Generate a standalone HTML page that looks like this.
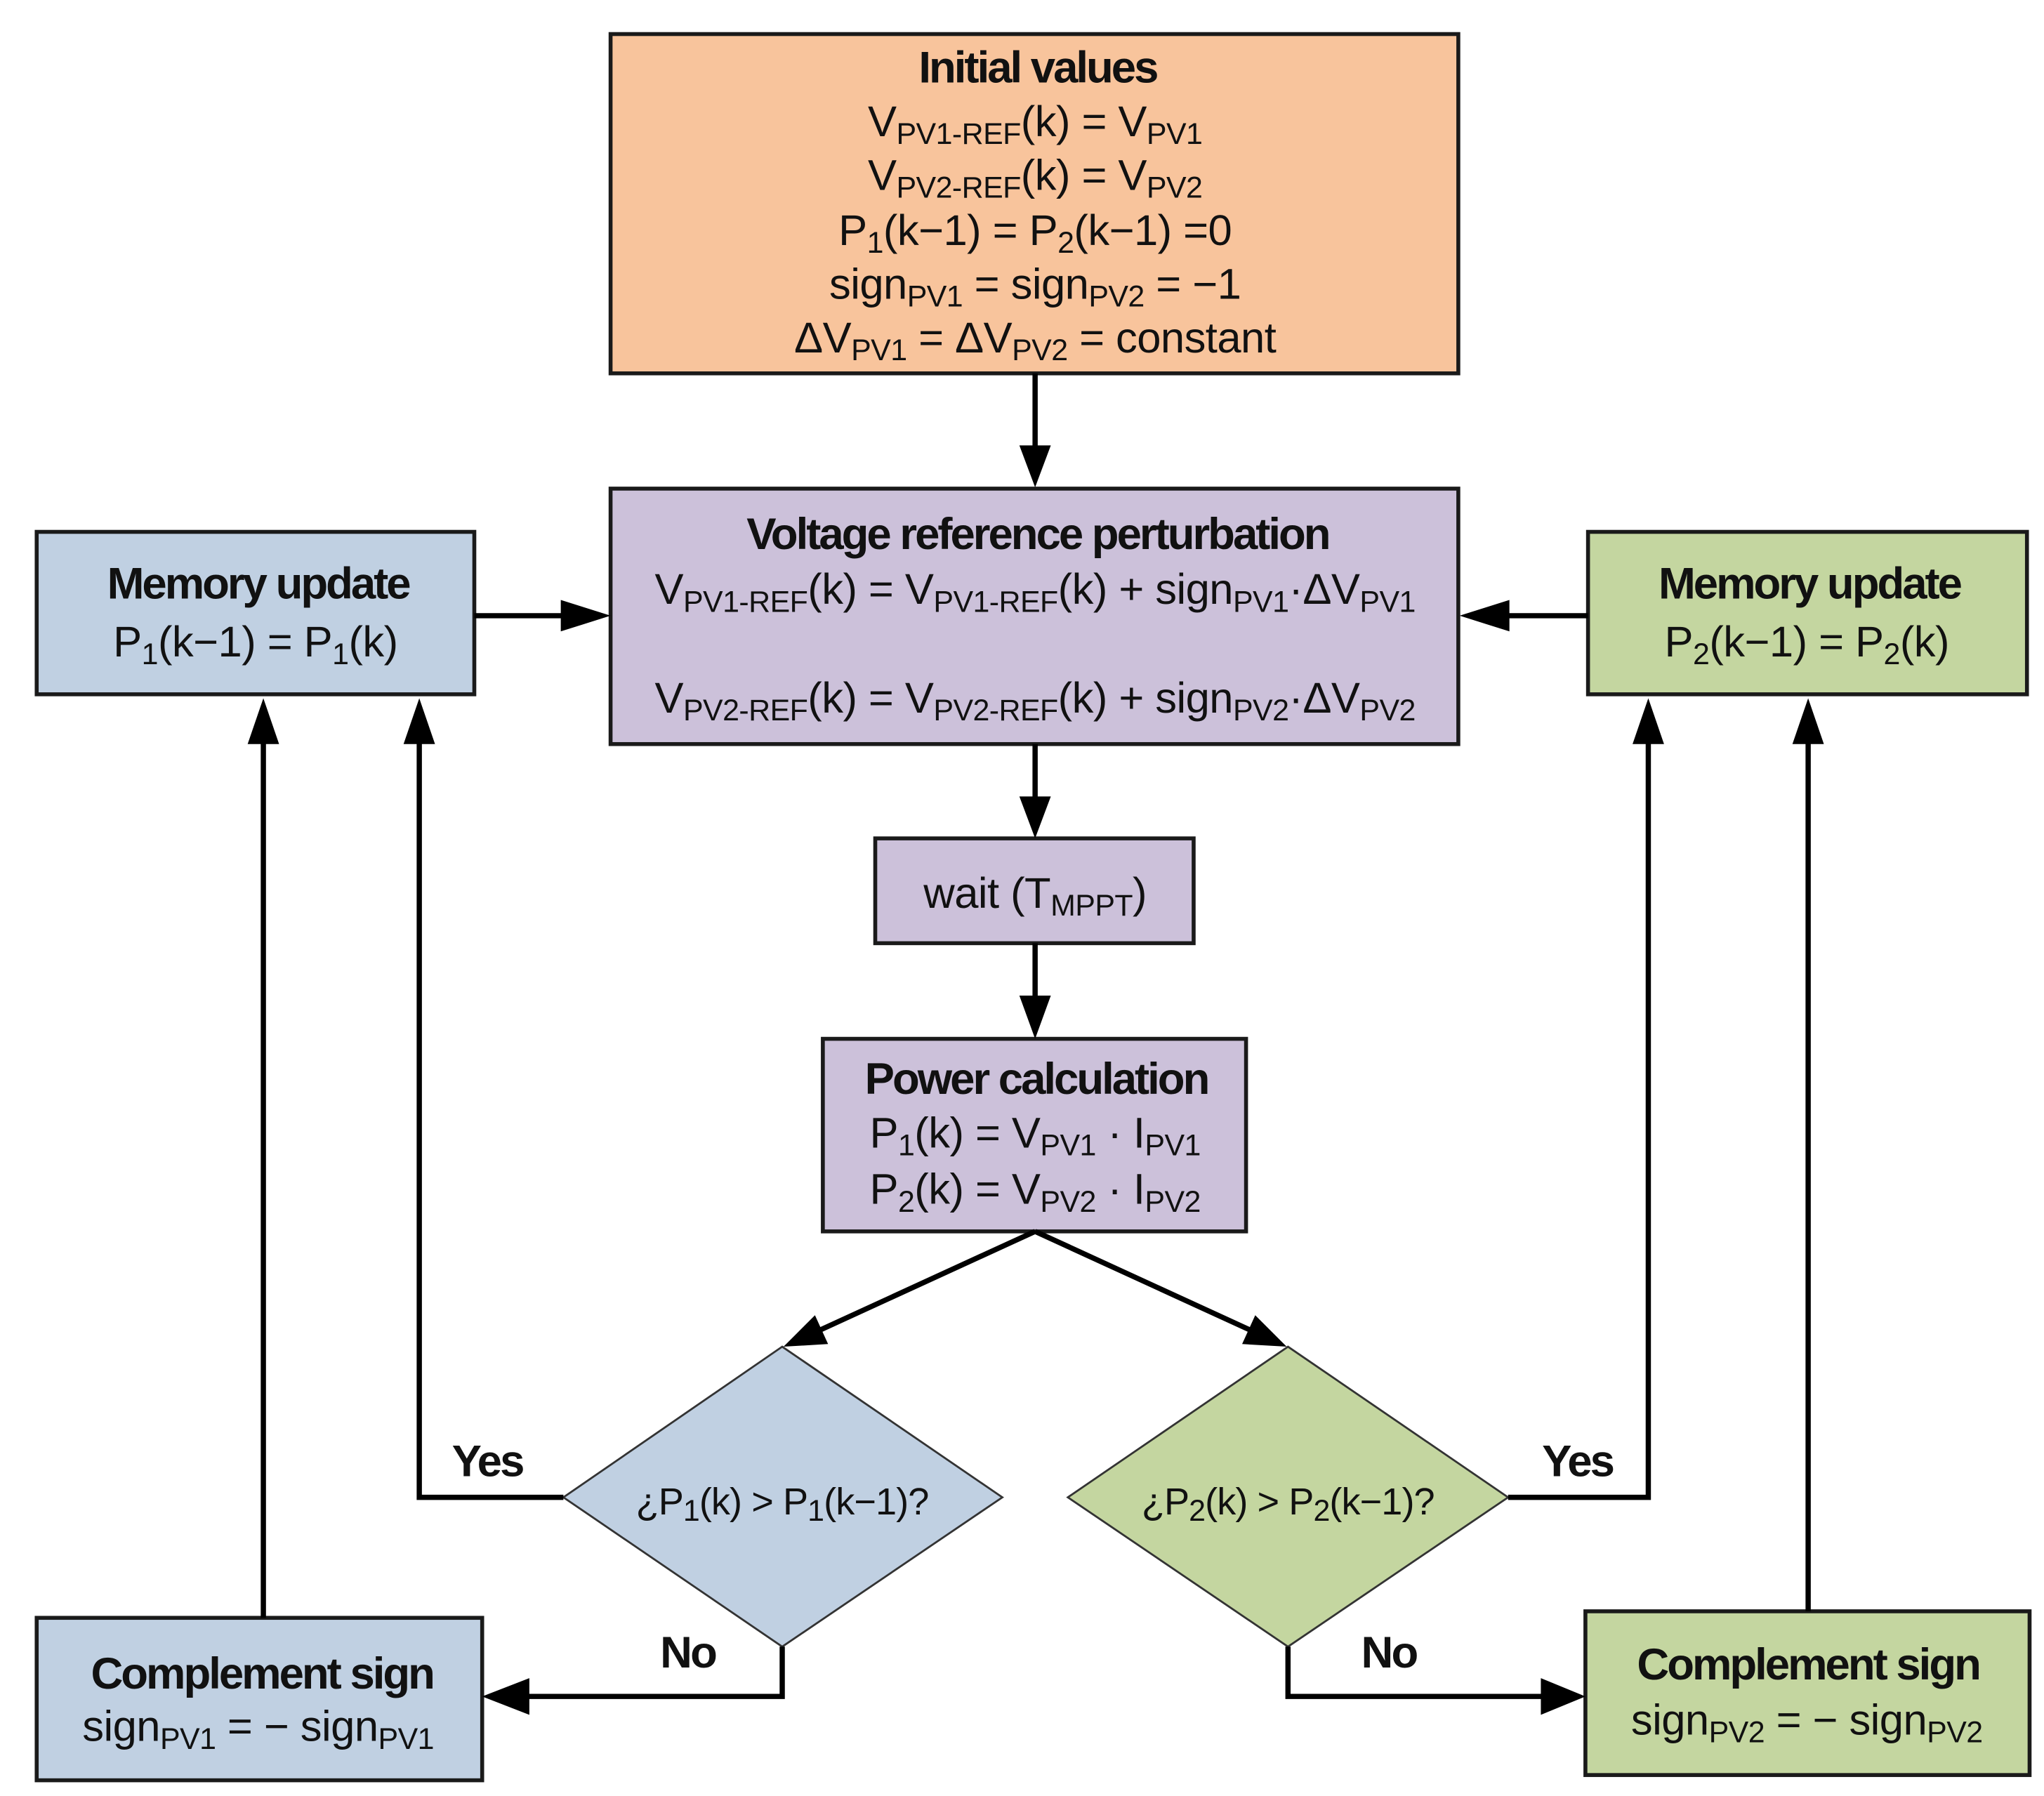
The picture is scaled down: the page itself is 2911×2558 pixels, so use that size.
<!DOCTYPE html>
<html><head><meta charset="utf-8"><style>
html,body{margin:0;padding:0;background:#fff;}
svg{display:block}
text{font-family:"Liberation Sans",Arial,sans-serif;fill:#111;}
.t{font-weight:bold;font-size:34px;letter-spacing:-1.6px}
.n{font-size:33px;letter-spacing:-0.3px}
.s{font-size:23px}
.d{font-size:29px;letter-spacing:-0.5px}
.y{font-weight:bold;font-size:34px;letter-spacing:-1.5px}
</style></head><body>
<svg width="2911" height="2558" viewBox="0 0 1560 1371" preserveAspectRatio="none" xmlns="http://www.w3.org/2000/svg">
<g stroke="#1a1a1a" stroke-width="3">
<rect x="466" y="26" width="647" height="259" fill="#F8C49C"/>
<rect x="466" y="373" width="647" height="195" fill="#CCC1DA"/>
<rect x="28" y="406" width="334" height="124" fill="#C0D0E2"/>
<rect x="1212" y="406" width="335" height="124" fill="#C4D6A0"/>
<rect x="668" y="640" width="243" height="80" fill="#CCC1DA"/>
<rect x="628" y="793" width="323" height="147" fill="#CCC1DA"/>
<rect x="28" y="1235" width="340" height="124" fill="#C0D0E2"/>
<rect x="1210" y="1230" width="339" height="125" fill="#C4D6A0"/>
</g>
<g stroke="#333" stroke-width="1.5">
<polygon points="597,1028 765,1143 597,1257 430,1143" fill="#C0D0E2"/>
<polygon points="983,1028 1151,1143 983,1257 815,1143" fill="#C4D6A0"/>
</g>
<g stroke="#000" stroke-width="4" fill="none">
<line x1="790" y1="285" x2="790" y2="345"/>
<line x1="362" y1="470" x2="430" y2="470"/>
<line x1="1212" y1="470" x2="1150" y2="470"/>
<line x1="790" y1="568" x2="790" y2="612"/>
<line x1="790" y1="720" x2="790" y2="765"/>
<line x1="790" y1="940" x2="620" y2="1018"/>
<line x1="790" y1="940" x2="960" y2="1018"/>
<polyline points="430,1143 320,1143 320,565"/>
<polyline points="1151,1143 1258,1143 1258,565"/>
<polyline points="597,1257 597,1295 400,1295"/>
<polyline points="983,1257 983,1295 1180,1295"/>
<line x1="201" y1="1235" x2="201" y2="565"/>
<line x1="1380" y1="1230" x2="1380" y2="565"/>
</g>
<g fill="#000">
<polygon points="778,340 802,340 790,372"/>
<polygon points="778,608 802,608 790,640"/>
<polygon points="778,760 802,760 790,793"/>
<polygon points="428,458 428,482 466,470"/>
<polygon points="1152,458 1152,482 1114,470"/>
<polygon points="308,568 332,568 320,533"/>
<polygon points="1246,568 1270,568 1258,533"/>
<polygon points="189,568 213,568 201,533"/>
<polygon points="1368,568 1392,568 1380,533"/>
<polygon points="404,1281 404,1309 368,1295"/>
<polygon points="1176,1281 1176,1309 1210,1295"/>
<polygon points="598,1028 622,1004 632,1026"/>
<polygon points="982,1028 958,1004 948,1026"/>
</g>
<g text-anchor="middle">
<text class="t" x="792" y="63">Initial values</text>
<text class="n" x="790" y="104">V<tspan class="s" dy="6">PV1-REF</tspan><tspan dy="-6">(k) = V</tspan><tspan class="s" dy="6">PV1</tspan></text>
<text class="n" x="790" y="145">V<tspan class="s" dy="6">PV2-REF</tspan><tspan dy="-6">(k) = V</tspan><tspan class="s" dy="6">PV2</tspan></text>
<text class="n" x="790" y="187">P<tspan class="s" dy="6">1</tspan><tspan dy="-6">(k−1) = P</tspan><tspan class="s" dy="6">2</tspan><tspan dy="-6">(k−1) =0</tspan></text>
<text class="n" x="790" y="228">sign<tspan class="s" dy="6">PV1</tspan><tspan dy="-6"> = sign</tspan><tspan class="s" dy="6">PV2</tspan><tspan dy="-6"> = −1</tspan></text>
<text class="n" x="790" y="269">ΔV<tspan class="s" dy="6">PV1</tspan><tspan dy="-6"> = ΔV</tspan><tspan class="s" dy="6">PV2</tspan><tspan dy="-6"> = constant</tspan></text>

<text class="t" x="792" y="419">Voltage reference perturbation</text>
<text class="n" x="790" y="461">V<tspan class="s" dy="6">PV1-REF</tspan><tspan dy="-6">(k) = V</tspan><tspan class="s" dy="6">PV1-REF</tspan><tspan dy="-6">(k) + sign</tspan><tspan class="s" dy="6">PV1</tspan><tspan dy="-6">·ΔV</tspan><tspan class="s" dy="6">PV1</tspan></text>
<text class="n" x="790" y="544">V<tspan class="s" dy="6">PV2-REF</tspan><tspan dy="-6">(k) = V</tspan><tspan class="s" dy="6">PV2-REF</tspan><tspan dy="-6">(k) + sign</tspan><tspan class="s" dy="6">PV2</tspan><tspan dy="-6">·ΔV</tspan><tspan class="s" dy="6">PV2</tspan></text>

<text class="t" x="197" y="457">Memory update</text>
<text class="n" x="195" y="501">P<tspan class="s" dy="6">1</tspan><tspan dy="-6">(k−1) = P</tspan><tspan class="s" dy="6">1</tspan><tspan dy="-6">(k)</tspan></text>
<text class="t" x="1381" y="457">Memory update</text>
<text class="n" x="1379" y="501">P<tspan class="s" dy="6">2</tspan><tspan dy="-6">(k−1) = P</tspan><tspan class="s" dy="6">2</tspan><tspan dy="-6">(k)</tspan></text>

<text class="n" x="790" y="693">wait (T<tspan class="s" dy="6">MPPT</tspan><tspan dy="-6">)</tspan></text>

<text class="t" x="791" y="835">Power calculation</text>
<text class="n" x="790" y="876">P<tspan class="s" dy="6">1</tspan><tspan dy="-6">(k) = V</tspan><tspan class="s" dy="6">PV1</tspan><tspan dy="-6"> · I</tspan><tspan class="s" dy="6">PV1</tspan></text>
<text class="n" x="790" y="919">P<tspan class="s" dy="6">2</tspan><tspan dy="-6">(k) = V</tspan><tspan class="s" dy="6">PV2</tspan><tspan dy="-6"> · I</tspan><tspan class="s" dy="6">PV2</tspan></text>

<text class="d" x="597" y="1156">¿P<tspan class="s" dy="5">1</tspan><tspan dy="-5">(k) &gt; P</tspan><tspan class="s" dy="5">1</tspan><tspan dy="-5">(k−1)?</tspan></text>
<text class="d" x="983" y="1156">¿P<tspan class="s" dy="5">2</tspan><tspan dy="-5">(k) &gt; P</tspan><tspan class="s" dy="5">2</tspan><tspan dy="-5">(k−1)?</tspan></text>

<text class="y" x="372" y="1127">Yes</text>
<text class="y" x="1204" y="1127">Yes</text>
<text class="y" x="525" y="1273">No</text>
<text class="y" x="1060" y="1273">No</text>

<text class="t" x="200" y="1289">Complement sign</text>
<text class="n" x="197" y="1329">sign<tspan class="s" dy="6">PV1</tspan><tspan dy="-6"> = − sign</tspan><tspan class="s" dy="6">PV1</tspan></text>
<text class="t" x="1380" y="1282">Complement sign</text>
<text class="n" x="1379" y="1324">sign<tspan class="s" dy="6">PV2</tspan><tspan dy="-6"> = − sign</tspan><tspan class="s" dy="6">PV2</tspan></text>
</g>
</svg>
</body></html>
